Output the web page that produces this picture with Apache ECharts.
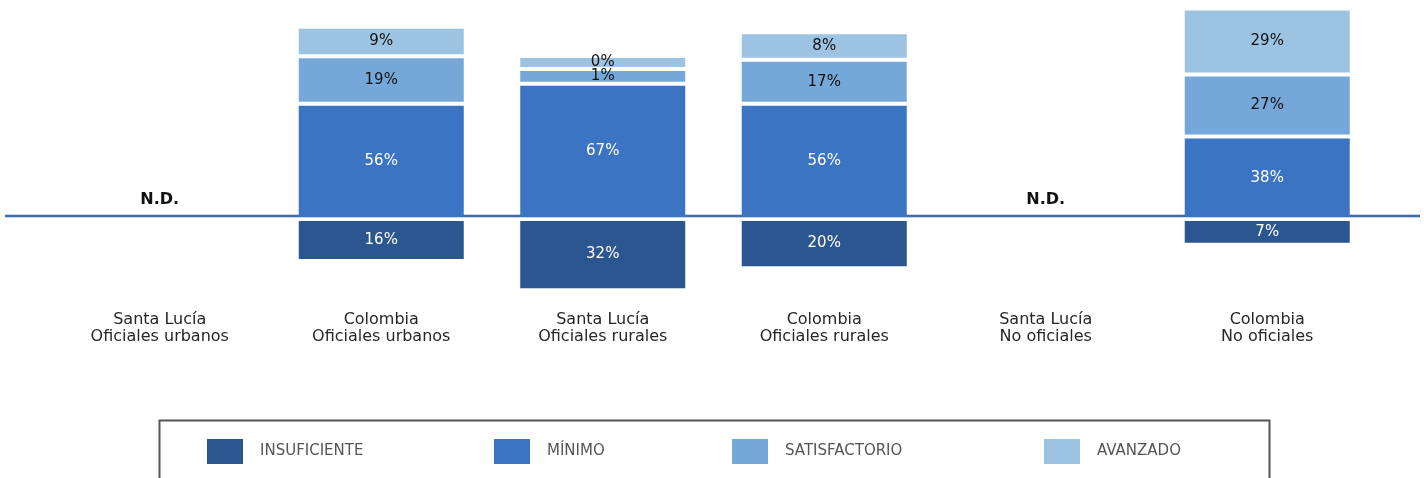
<!DOCTYPE html>
<html>
<head>
<meta charset="utf-8">
<script src="https://cdn.jsdelivr.net/npm/echarts@6/dist/echarts.min.js"></script>
<style>
  html, body { margin: 0; padding: 0; background: #fff; }
  #main { width: 1424px; height: 478px; }
</style>
</head>
<body>
<div id="main"></div>
<script>
"use strict";

// categories and values per level (null = N.D.)
var categories = [
    'Santa Lucía\nOficiales urbanos',
    'Colombia\nOficiales urbanos',
    'Santa Lucía\nOficiales rurales',
    'Colombia\nOficiales rurales',
    'Santa Lucía\nNo oficiales',
    'Colombia\nNo oficiales'
];
var insuficiente  = [null, 16, 32, 20, null, 7];
var minimo        = [null, 56, 67, 56, null, 38];
var satisfactorio = [null, 19, 1, 17, null, 27];
var avanzado      = [null, 9, 0, 8, null, 29];

var levelNames  = ['INSUFICIENTE', 'MÍNIMO', 'SATISFACTORIO', 'AVANZADO'];
var levelColors = ['#2b5690', '#3a74c2', '#75a8d9', '#9dc3e3'];
var labelColors = ['#ffffff', '#ffffff', '#111111', '#111111'];
var levels = [insuficiente, minimo, satisfactorio, avanzado];

var FONT = '"DejaVu Sans", Verdana, sans-serif';
var PAD = 9;   // every block is drawn a bit taller than its value
var GAP = 4;   // white gap between blocks

function makeRender(level) {
    return function(params, api) {
        var idx = api.value(0);
        var base = api.coord([idx, 0]);
        var bw = api.size([1, 0])[0] * 0.745;
        var h = function(v) { return api.size([0, v])[1] + PAD; };
        var y, height;
        if (level === 0) {
            y = base[1] + GAP;
            height = h(levels[0][idx]);
        } else {
            var bottom = base[1];
            for (var j = 1; j < level; j++) {
                bottom -= h(levels[j][idx]) + GAP;
            }
            height = h(levels[level][idx]);
            y = bottom - height;
        }
        return {
            type: 'rect',
            shape: { x: base[0] - bw / 2, y: y, width: bw, height: height },
            style: { fill: levelColors[level] },
            textContent: {
                style: {
                    text: api.value(1) + '%',
                    fill: labelColors[level],
                    font: '15px ' + FONT
                }
            },
            textConfig: { position: 'inside' }
        };
    };
}

var series = levels.map(function(arr, level) {
    var data = [];
    arr.forEach(function(v, i) {
        if (v !== null) data.push([i, v]);
    });
    return {
        name: levelNames[level],
        type: 'custom',
        renderItem: makeRender(level),
        itemStyle: { color: levelColors[level] },
        encode: { x: 0, y: 1 },
        data: data
    };
});

// N.D. for categories without data
var ndData = [];
minimo.forEach(function(v, i) { if (v === null) ndData.push([i, 0]); });
series.push({
    name: 'nd',
    type: 'custom',
    encode: { x: 0, y: 1 },
    renderItem: function(params, api) {
        var p = api.coord([api.value(0), 0]);
        return {
            type: 'text',
            x: p[0],
            y: p[1] - 17,
            style: {
                text: 'N.D.',
                font: 'bold 16px ' + FONT,
                fill: '#111',
                align: 'center',
                verticalAlign: 'middle'
            }
        };
    },
    data: ndData
});

var legendLeft = [207, 494, 732, 1044];
var legends = levelNames.map(function(name, i) {
    return {
        data: [name],
        left: legendLeft[i],
        top: 439,
        padding: 0,
        icon: 'rect',
        itemWidth: 36,
        itemHeight: 25,
        selectedMode: false,
        textStyle: {
            fontFamily: FONT,
            fontSize: 15,
            color: '#555',
            padding: [0, 0, 0, 12]
        }
    };
});

var myChart = echarts.init(document.getElementById('main'));
var option = {
    animation: false,
    legend: legends,
    grid: { left: 49, right: 46, top: 0, bottom: 170 },
    xAxis: {
        type: 'category',
        data: categories,
        axisLine: { show: false, onZero: false },
        axisTick: { show: false },
        axisLabel: {
            margin: 3,
            fontFamily: FONT,
            fontSize: 16,
            lineHeight: 17,
            color: '#262626',
            interval: 0
        }
    },
    yAxis: {
        type: 'value',
        min: -50,
        max: 119,
        show: false
    },
    series: series
};
myChart.setOption(option);

// baseline across the whole width and the legend frame
var y0 = myChart.convertToPixel({ yAxisIndex: 0 }, 0) - 1;
myChart.setOption({
    graphic: [
        { type: 'line', shape: { x1: 5, y1: y0, x2: 1420, y2: y0 },
          style: { stroke: '#8eaadb', lineWidth: 3 }, silent: true },
        { type: 'line', shape: { x1: 5, y1: y0, x2: 1420, y2: y0 },
          style: { stroke: '#2f5597', lineWidth: 1.5 }, silent: true },
        { type: 'rect', shape: { x: 159.5, y: 420.5, width: 1110, height: 80 },
          style: { fill: 'none', stroke: '#555', lineWidth: 2 }, silent: true }
    ]
});
</script>
</body>
</html>
